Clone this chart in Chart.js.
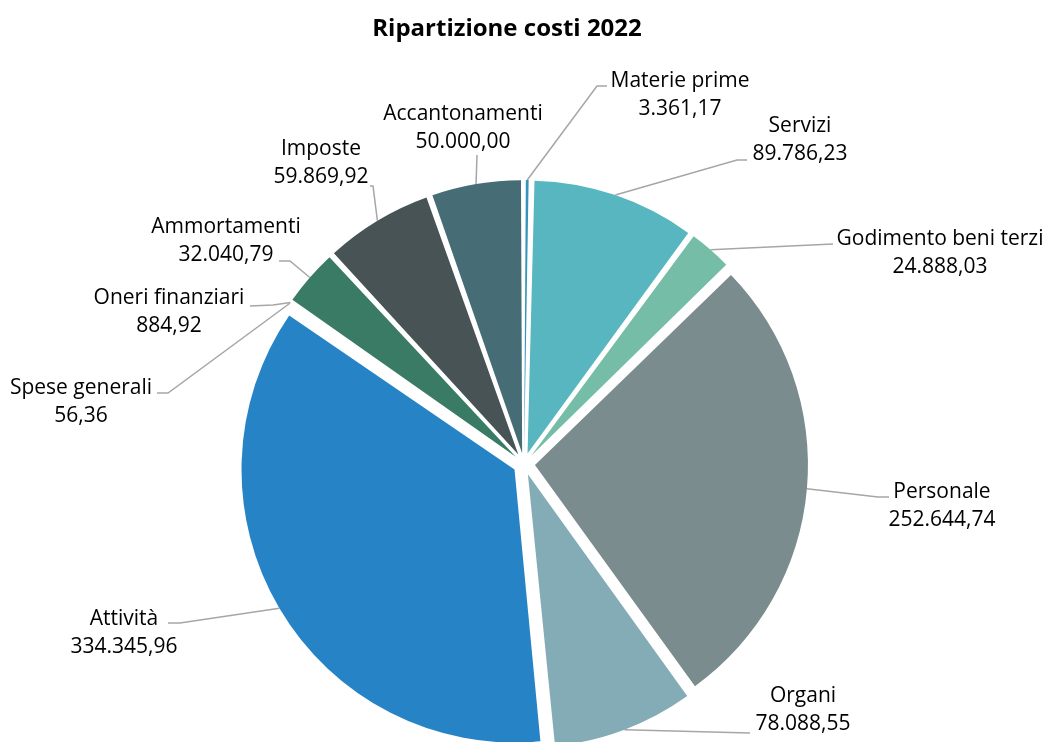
<!DOCTYPE html>
<html>
<head>
<meta charset="utf-8">
<script src="https://cdn.jsdelivr.net/npm/chart.js@4"></script>
<style>
    body { margin: 0; background: #fff; }
    canvas { display: block; }
</style>
</head>
<body>
<canvas id="costiChart" width="1047" height="742"></canvas>
<script>
// Data
const categories = ['Materie prime', 'Servizi', 'Godimento beni terzi', 'Personale', 'Organi', 'Attività',
    'Spese generali', 'Oneri finanziari', 'Ammortamenti', 'Imposte', 'Accantonamenti'];
const costValues = [3361.17, 89786.23, 24888.03, 252644.74, 78088.55, 334345.96,
    56.36, 884.92, 32040.79, 59869.92, 50000.00];
const sliceColors = ['#3494BA', '#58B6C0', '#75BDA7', '#7A8C8E', '#84ACB6', '#2683C6',
    '#1F5970', '#356D73', '#3A7B66', '#485356', '#466D76'];

// Label layout: text centre x, first baseline y, then leader points from the slice edge to the label
const labelPos = [[680, 87], [800, 132], [940, 245], [942, 498], [803, 702], [124, 625],
    [81, 394], [169, 304], [226, 233], [321, 155], [463, 120]];
const leaderPts = [
    [[597, 86], [607, 86]],
    [[737, 160], [747, 160]],
    [[833, 244]],
    [[878, 497], [889, 497]],
    [[750, 733]],
    [[180, 623], [168, 623]],
    [[168, 393], [157, 393]],
    [[273, 305], [250, 306]],
    [[290, 261], [279, 261]],
    [[373, 186], [370, 186]],
    [[477, 155]]
];

const SLICE_OFFSET = 44; // Chart.js moves the arc by offset / 4

function fmt(v) {
    const parts = v.toFixed(2).split('.');
    return parts[0].replace(/\B(?=(\d{3})+(?!\d))/g, '.') + ',' + parts[1];
}

// keep every exploded slice at the same radius (Chart.js grows thin slices by the offset)
const evenRadius = {
    id: 'evenRadius',
    afterDatasetsUpdate(chart) {
        const R = chart.options.radius;
        chart.getDatasetMeta(0).data.forEach(function(arc) {
            const circ = arc.endAngle - arc.startAngle;
            const fix = 1 - Math.sin(Math.min(Math.PI, circ));
            arc.outerRadius = R - (SLICE_OFFSET / 4) * fix;
        });
    }
};

// title, data labels and leader lines
const pieLabels = {
    id: 'pieLabels',
    afterDraw(chart) {
        const ctx = chart.ctx;
        const R = chart.options.radius;
        ctx.save();
        ctx.fillStyle = '#000';
        ctx.textAlign = 'center';
        ctx.font = 'bold 24px "Open Sans"';
        ctx.fillText('Ripartizione costi 2022', 507, 36);

        chart.getDatasetMeta(0).data.forEach(function(arc, i) {
            const mid = (arc.startAngle + arc.endAngle) / 2;
            const d = R + SLICE_OFFSET / 4;
            ctx.strokeStyle = '#A6A6A6';
            ctx.lineWidth = 1.5;
            ctx.beginPath();
            ctx.moveTo(arc.x + Math.cos(mid) * d, arc.y + Math.sin(mid) * d);
            leaderPts[i].forEach(function(p) { ctx.lineTo(p[0], p[1]); });
            ctx.stroke();

            ctx.fillStyle = '#000';
            ctx.font = '21px "Open Sans"';
            ctx.fillText(categories[i], labelPos[i][0], labelPos[i][1]);
            ctx.fillText(fmt(costValues[i]), labelPos[i][0], labelPos[i][1] + 28);
        });
        ctx.restore();
    }
};

document.addEventListener("DOMContentLoaded", function() {
    const ctx = document.getElementById('costiChart').getContext('2d');
    const costiChart = new Chart(ctx, {
        type: 'pie',
        data: {
            labels: categories,
            datasets: [{
                data: costValues,
                backgroundColor: sliceColors,
                borderWidth: 0,
                offset: SLICE_OFFSET,
                hoverOffset: 0,
                clip: false
            }]
        },
        options: {
            responsive: false,
            animation: false,
            radius: 273,
            layout: {
                padding: { left: 1, right: 0, top: 186, bottom: 0 }
            },
            plugins: {
                legend: { display: false },
                title: { display: false },
                tooltip: { enabled: false }
            }
        },
        plugins: [evenRadius, pieLabels]
    });
});
</script>
</body>
</html>
